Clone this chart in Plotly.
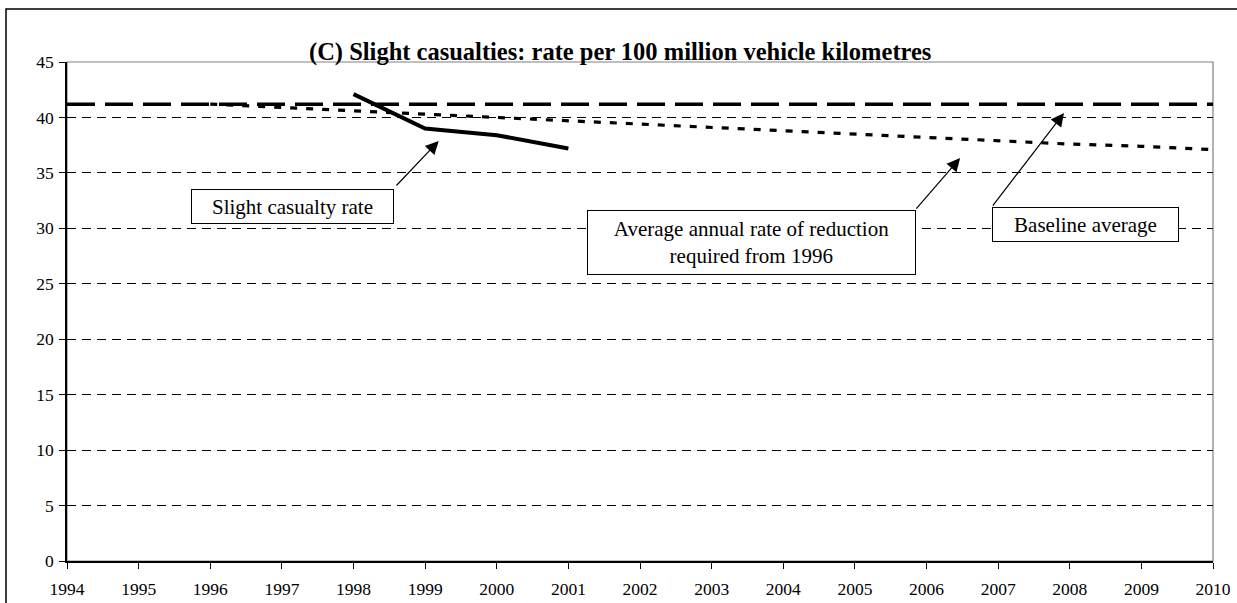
import plotly.graph_objects as go

# ---- data ----
rate_years = [1998, 1999, 2000, 2001]
slight_rate = [42.1, 39.0, 38.4, 37.2]

baseline_years = [1994, 2010]
baseline_avg = [41.2, 41.2]

target_years = [1996, 1997, 1998, 1999, 2000, 2001, 2002, 2003,
                2004, 2005, 2006, 2007, 2008, 2009, 2010]
target_rate = [41.2, 40.9, 40.6, 40.3, 40.0, 39.7, 39.4, 39.1,
               38.8, 38.5, 38.2, 37.9, 37.6, 37.4, 37.1]

x_ticks = list(range(1994, 2011))
y_ticks = [0, 5, 10, 15, 20, 25, 30, 35, 40, 45]

title_text = "(C) Slight casualties: rate per 100 million vehicle kilometres"

FONT = "Liberation Serif, Times New Roman, serif"

fig = go.Figure()

fig.add_trace(go.Scatter(
    x=baseline_years, y=baseline_avg, mode="lines",
    line=dict(color="black", width=3.5, dash="28px,10px"),
    name="Baseline average", hoverinfo="skip"))

fig.add_trace(go.Scatter(
    x=target_years, y=target_rate, mode="lines",
    line=dict(color="black", width=3.2, dash="7px,9px"),
    name="Average annual rate of reduction required from 1996", hoverinfo="skip"))

fig.add_trace(go.Scatter(
    x=rate_years, y=slight_rate, mode="lines",
    line=dict(color="black", width=4),
    name="Slight casualty rate", hoverinfo="skip"))

annotations = []

# title
annotations.append(dict(
    text="<b>" + title_text + "</b>", xref="paper", yref="paper",
    x=(620 - 67) / 1146, y=1.0, xanchor="center", yanchor="bottom",
    yshift=-6, showarrow=False,
    font=dict(family=FONT, size=24.5, color="black")))

# label boxes
boxes = [
    ("Slight casualty rate", 1997.15, 32.0, 203, 35),
    ("Average annual rate of reduction<br>required from 1996", 2003.55, 28.72, 329, 65),
    ("Baseline average", 2008.22, 30.34, 187, 35),
]
for txt, bx, by, bw, bh in boxes:
    annotations.append(dict(
        text=txt, x=bx, y=by, xref="x", yref="y", showarrow=False,
        width=bw - 2, height=bh - 2, borderpad=0, borderwidth=1,
        bordercolor="black", bgcolor="white", align="center", valign="middle",
        font=dict(family=FONT, size=21, color="black")))

# arrows (tail -> head)
arrows = [
    ((1998.58, 33.73), (1999.19, 37.88)),
    ((2005.84, 31.65), (2006.47, 36.34)),
    ((2006.91, 31.92), (2007.92, 40.40)),
]
for (tx, ty), (hx, hy) in arrows:
    annotations.append(dict(
        text="", x=hx, y=hy, ax=tx, ay=ty, xref="x", yref="y",
        axref="x", ayref="y", showarrow=True, arrowhead=2,
        arrowsize=2.2, arrowwidth=1.2, arrowcolor="black", standoff=0,
        startstandoff=0))

shapes = [
    # outer frame of the chart
    dict(type="rect", xref="paper", yref="paper",
         x0=(6 - 67) / 1146, x1=1.2, y0=-0.3, y1=(561 - 9) / 499,
         line=dict(color="black", width=1.5), fillcolor="rgba(0,0,0,0)", layer="below"),
    # plot area border (top/right thin grey)
    dict(type="rect", xref="paper", yref="paper", x0=0, x1=1, y0=0, y1=1,
         line=dict(color="#808080", width=1.2), fillcolor="rgba(0,0,0,0)", layer="below"),
]

fig.update_layout(
    width=1237, height=603,
    margin=dict(l=67, r=24, t=62, b=42, pad=0, autoexpand=False),
    paper_bgcolor="white", plot_bgcolor="white",
    showlegend=False,
    font=dict(family=FONT, size=17.5, color="black"),
    annotations=annotations,
    shapes=shapes,
)

fig.update_xaxes(
    range=[1994, 2010], tickvals=x_ticks, ticktext=[str(v) for v in x_ticks],
    showgrid=False, zeroline=False, automargin=False,
    showline=True, linecolor="black", linewidth=1.5,
    ticks="outside", ticklen=6, tickwidth=1, tickcolor="black",
    tickfont=dict(family=FONT, size=17.5, color="black"),
    ticklabelstandoff=5,
)
fig.update_yaxes(
    range=[0, 45], tickvals=y_ticks, ticktext=[str(v) for v in y_ticks],
    showgrid=True, gridcolor="black", gridwidth=0.8, griddash="9px,6px",
    zeroline=False, automargin=False,
    showline=True, linecolor="black", linewidth=1.5,
    ticks="outside", ticklen=6, tickwidth=1, tickcolor="black",
    tickfont=dict(family=FONT, size=17.5, color="black"),
    ticklabelstandoff=2,
)

fig.write_html("out.html", config={"displayModeBar": False},
               post_script="document.body.style.margin='0px';document.body.style.overflow='hidden';")
